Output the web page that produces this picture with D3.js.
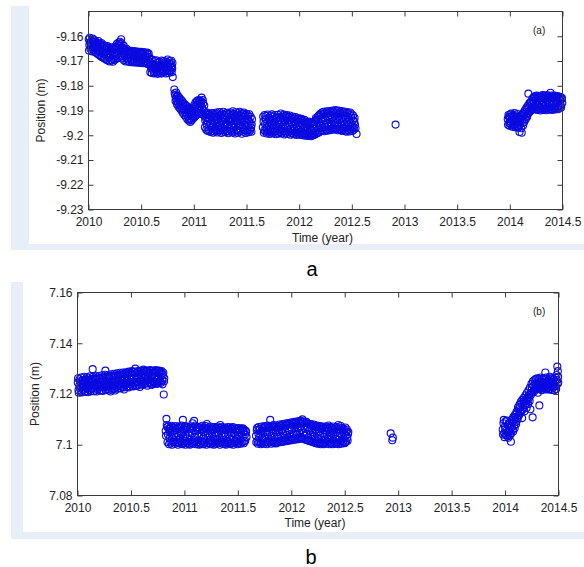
<!DOCTYPE html>
<html>
<head>
<meta charset="utf-8">
<script src="https://cdn.jsdelivr.net/npm/d3@7"></script>
<style>
  html, body { margin: 0; padding: 0; background: #fff; }
  svg { display: block; font-family: Arial, "Liberation Sans", sans-serif; }
</style>
</head>
<body>
<svg id="fig" width="584" height="567"></svg>
<script>
// ---- tick values and labels ----
const xTicks = [2010, 2010.5, 2011, 2011.5, 2012, 2012.5, 2013, 2013.5, 2014, 2014.5];
const xTickLabels = ["2010", "2010.5", "2011", "2011.5", "2012", "2012.5", "2013", "2013.5", "2014", "2014.5"];
const yTicksA = [-9.23, -9.22, -9.21, -9.20, -9.19, -9.18, -9.17, -9.16];
const yTickLabelsA = ["-9.23", "-9.22", "-9.21", "-9.2", "-9.19", "-9.18", "-9.17", "-9.16"];
const yTicksB = [7.08, 7.10, 7.12, 7.14, 7.16];
const yTickLabelsB = ["7.08", "7.1", "7.12", "7.14", "7.16"];

// ---- station (a): daily positions [time (year), position (m)] ----
const segA1 = [
[2010.002,-9.1612],[2010.008,-9.1635],[2010.015,-9.1624],[2010.021,-9.1641],[2010.029,-9.1618],[2010.035,-9.1630],
[2010.042,-9.1646],[2010.048,-9.1622],[2010.056,-9.1637],[2010.063,-9.1651],[2010.070,-9.1629],[2010.077,-9.1643],
[2010.084,-9.1656],[2010.090,-9.1634],[2010.097,-9.1648],[2010.104,-9.1662],[2010.112,-9.1639],[2010.118,-9.1653],
[2010.126,-9.1667],[2010.133,-9.1644],[2010.140,-9.1658],[2010.148,-9.1672],[2010.155,-9.1651],[2010.162,-9.1663],
[2010.170,-9.1677],[2010.177,-9.1655],[2010.184,-9.1668],[2010.192,-9.1683],[2010.199,-9.1660],[2010.206,-9.1674],
[2010.214,-9.1695],[2010.221,-9.1662],[2010.229,-9.1678],[2010.236,-9.1690],[2010.244,-9.1667],[2010.251,-9.1655],
[2010.258,-9.1680],[2010.266,-9.1648],[2010.273,-9.1672],[2010.281,-9.1640],[2010.288,-9.1663],[2010.295,-9.1632],
[2010.303,-9.1655],[2010.310,-9.1612],[2010.318,-9.1645],[2010.325,-9.1668],[2010.333,-9.1638],[2010.340,-9.1675],
[2010.348,-9.1656],[2010.355,-9.1682],[2010.363,-9.1664],[2010.370,-9.1690],[2010.378,-9.1671],[2010.386,-9.1660],
[2010.393,-9.1685],[2010.401,-9.1673],[2010.408,-9.1694],[2010.416,-9.1668],[2010.423,-9.1681],[2010.431,-9.1699],
[2010.438,-9.1676],[2010.446,-9.1663],[2010.453,-9.1688],[2010.461,-9.1672],[2010.468,-9.1695],[2010.476,-9.1679],
[2010.484,-9.1667],[2010.491,-9.1690],[2010.499,-9.1675],[2010.506,-9.1698],[2010.514,-9.1682],[2010.521,-9.1670],
[2010.529,-9.1693],[2010.537,-9.1679],[2010.544,-9.1701],[2010.552,-9.1686],[2010.559,-9.1672],[2010.567,-9.1696],
[2010.575,-9.1683],
[2010.583,-9.1705],[2010.590,-9.1722],[2010.597,-9.1693],[2010.604,-9.1731],[2010.611,-9.1712],[2010.618,-9.1740],
[2010.625,-9.1718],[2010.632,-9.1700],[2010.639,-9.1735],[2010.646,-9.1722],[2010.653,-9.1745],[2010.660,-9.1708],
[2010.667,-9.1728],[2010.674,-9.1741],[2010.681,-9.1715],[2010.688,-9.1732],[2010.695,-9.1698],[2010.702,-9.1724],
[2010.709,-9.1738],[2010.716,-9.1711],[2010.723,-9.1729],[2010.730,-9.1702],[2010.737,-9.1735],[2010.744,-9.1717],
[2010.751,-9.1694],[2010.758,-9.1726],[2010.765,-9.1708],[2010.772,-9.1737],[2010.779,-9.1713],[2010.786,-9.1699],
[2010.793,-9.1722],[2010.797,-9.1708],[2010.800,-9.1765]
];
const segA1x = [
[2010.005,-9.1658],[2010.012,-9.1606],[2010.018,-9.1650],[2010.025,-9.1627],[2010.032,-9.1661],[2010.039,-9.1609],
[2010.045,-9.1655],[2010.052,-9.1614],[2010.059,-9.1664],[2010.066,-9.1620],[2010.073,-9.1667],[2010.080,-9.1625],
[2010.087,-9.1672],[2010.094,-9.1619],[2010.101,-9.1676],[2010.108,-9.1630],[2010.115,-9.1681],[2010.122,-9.1627],
[2010.129,-9.1685],[2010.136,-9.1634],[2010.144,-9.1688],[2010.151,-9.1638],[2010.158,-9.1692],[2010.166,-9.1643],
[2010.173,-9.1696],[2010.180,-9.1640],[2010.188,-9.1699],[2010.195,-9.1647],[2010.202,-9.1702],[2010.210,-9.1651],
[2010.217,-9.1698],[2010.225,-9.1645],[2010.232,-9.1703],[2010.240,-9.1650],[2010.247,-9.1696],[2010.255,-9.1642],
[2010.262,-9.1692],[2010.270,-9.1630],[2010.277,-9.1688],[2010.285,-9.1625],[2010.292,-9.1684],[2010.299,-9.1622],
[2010.306,-9.1680],[2010.314,-9.1628],[2010.321,-9.1690],[2010.329,-9.1650],[2010.336,-9.1697],[2010.344,-9.1661],
[2010.351,-9.1702],[2010.359,-9.1650],[2010.367,-9.1700],[2010.374,-9.1657],[2010.382,-9.1703],[2010.389,-9.1662],
[2010.397,-9.1705],[2010.404,-9.1659],[2010.412,-9.1702],[2010.419,-9.1664],[2010.427,-9.1706],[2010.434,-9.1660],
[2010.442,-9.1703],[2010.450,-9.1665],[2010.457,-9.1707],[2010.465,-9.1662],[2010.472,-9.1704],[2010.480,-9.1666],
[2010.487,-9.1708],[2010.495,-9.1663],[2010.502,-9.1705],[2010.510,-9.1668],[2010.517,-9.1709],[2010.525,-9.1664],
[2010.533,-9.1706],[2010.540,-9.1669],[2010.548,-9.1710],[2010.556,-9.1666],[2010.563,-9.1712],[2010.571,-9.1670],
[2010.579,-9.1715],
[2010.587,-9.1745],[2010.594,-9.1710],[2010.601,-9.1748],[2010.608,-9.1695],[2010.615,-9.1725],[2010.622,-9.1750],
[2010.629,-9.1714],[2010.636,-9.1747],[2010.643,-9.1697],[2010.650,-9.1730],[2010.657,-9.1752],[2010.664,-9.1719],
[2010.671,-9.1703],[2010.678,-9.1748],[2010.685,-9.1722],[2010.692,-9.1751],[2010.699,-9.1712],[2010.706,-9.1745],
[2010.713,-9.1700],[2010.720,-9.1742],[2010.727,-9.1720],[2010.734,-9.1750],[2010.741,-9.1705],[2010.748,-9.1740],
[2010.755,-9.1716],[2010.762,-9.1748],[2010.769,-9.1700],[2010.776,-9.1743],[2010.783,-9.1725],[2010.790,-9.1745],
[2010.795,-9.1730]
];
const segA2 = [
[2010.815,-9.1815],[2010.822,-9.1838],[2010.829,-9.1852],[2010.836,-9.1845],[2010.843,-9.1863],[2010.850,-9.1870],
[2010.857,-9.1856],[2010.864,-9.1878],[2010.871,-9.1866],[2010.878,-9.1885],[2010.885,-9.1874],[2010.892,-9.1893],
[2010.899,-9.1880],[2010.906,-9.1899],[2010.913,-9.1888],[2010.920,-9.1906],[2010.927,-9.1894],[2010.934,-9.1913],
[2010.941,-9.1900],[2010.948,-9.1922],[2010.955,-9.1908],[2010.962,-9.1934],[2010.969,-9.1915],[2010.976,-9.1940],
[2010.983,-9.1902],[2010.990,-9.1926],[2010.997,-9.1895],[2011.004,-9.1912],[2011.011,-9.1885],[2011.018,-9.1903],
[2011.025,-9.1878],[2011.032,-9.1896],[2011.039,-9.1872],[2011.046,-9.1890],[2011.053,-9.1866],[2011.060,-9.1884],
[2011.067,-9.1875],[2011.074,-9.1848],[2011.081,-9.1892],[2011.088,-9.1870],[2011.095,-9.1901]
];
const segA2x = [
[2010.818,-9.1830],[2010.826,-9.1862],[2010.833,-9.1827],[2010.840,-9.1875],[2010.847,-9.1840],[2010.854,-9.1885],
[2010.861,-9.1848],[2010.868,-9.1892],[2010.875,-9.1855],[2010.882,-9.1900],[2010.889,-9.1862],[2010.896,-9.1910],
[2010.903,-9.1870],[2010.910,-9.1918],[2010.917,-9.1876],[2010.924,-9.1925],[2010.931,-9.1882],[2010.938,-9.1935],
[2010.945,-9.1888],[2010.952,-9.1941],[2010.959,-9.1893],[2010.966,-9.1946],[2010.973,-9.1898],[2010.980,-9.1938],
[2010.987,-9.1890],[2010.994,-9.1932],[2011.001,-9.1880],[2011.008,-9.1926],[2011.015,-9.1868],[2011.022,-9.1920],
[2011.029,-9.1862],[2011.036,-9.1915],[2011.043,-9.1858],[2011.050,-9.1910],[2011.057,-9.1860],[2011.064,-9.1908],
[2011.071,-9.1865],[2011.078,-9.1912],[2011.085,-9.1858],[2011.092,-9.1918],[2011.099,-9.1880]
];
const segA3 = [
[2011.102,-9.1922],[2011.108,-9.1940],[2011.115,-9.1931],[2011.121,-9.1955],[2011.128,-9.1918],[2011.134,-9.1946],
[2011.141,-9.1962],[2011.147,-9.1935],[2011.154,-9.1952],[2011.160,-9.1924],[2011.167,-9.1968],[2011.173,-9.1943],
[2011.180,-9.1930],[2011.186,-9.1957],[2011.193,-9.1941],[2011.199,-9.1975],[2011.206,-9.1950],[2011.212,-9.1927],
[2011.219,-9.1962],[2011.225,-9.1938],[2011.232,-9.1985],[2011.238,-9.1949],[2011.245,-9.1920],[2011.251,-9.1958],
[2011.258,-9.1943],[2011.264,-9.1970],[2011.271,-9.1932],[2011.277,-9.1955],[2011.284,-9.1917],[2011.290,-9.1946],
[2011.297,-9.1963],[2011.303,-9.1936],[2011.310,-9.1952],[2011.316,-9.1925],[2011.323,-9.1958],[2011.329,-9.1940],
[2011.336,-9.1974],[2011.342,-9.1947],[2011.349,-9.1930],[2011.355,-9.1959],[2011.362,-9.1942],[2011.368,-9.1915],
[2011.375,-9.1953],[2011.381,-9.1968],[2011.388,-9.1939],[2011.394,-9.1922],[2011.401,-9.1957],[2011.407,-9.1944],
[2011.414,-9.1980],[2011.420,-9.1950],[2011.427,-9.1928],[2011.433,-9.1962],[2011.440,-9.1937],[2011.446,-9.1955],
[2011.453,-9.1913],[2011.459,-9.1946],[2011.466,-9.1971],[2011.472,-9.1940],[2011.479,-9.1958],[2011.485,-9.1925],
[2011.492,-9.1964],[2011.498,-9.1949],[2011.505,-9.1978],[2011.511,-9.1935],[2011.518,-9.1960],[2011.524,-9.1943],
[2011.531,-9.1975],[2011.537,-9.1952],[2011.544,-9.1968],[2011.550,-9.1957]
];
const segA3x = [
[2011.105,-9.1968],[2011.111,-9.1910],[2011.118,-9.1978],[2011.124,-9.1908],[2011.131,-9.1983],[2011.137,-9.1915],
[2011.144,-9.1980],[2011.150,-9.1912],[2011.157,-9.1987],[2011.163,-9.1920],[2011.170,-9.1984],[2011.176,-9.1910],
[2011.183,-9.1990],[2011.189,-9.1917],[2011.196,-9.1985],[2011.202,-9.1913],[2011.209,-9.1982],[2011.215,-9.1908],
[2011.222,-9.1989],[2011.228,-9.1915],[2011.235,-9.1966],[2011.241,-9.1906],[2011.248,-9.1980],[2011.254,-9.1918],
[2011.261,-9.1991],[2011.267,-9.1912],[2011.274,-9.1986],[2011.280,-9.1905],[2011.287,-9.1979],[2011.293,-9.1920],
[2011.300,-9.1988],[2011.306,-9.1911],[2011.313,-9.1983],[2011.319,-9.1909],[2011.326,-9.1992],[2011.332,-9.1916],
[2011.339,-9.1985],[2011.345,-9.1908],[2011.352,-9.1981],[2011.358,-9.1919],[2011.365,-9.1989],[2011.371,-9.1903],
[2011.378,-9.1984],[2011.384,-9.1914],[2011.391,-9.1993],[2011.397,-9.1907],[2011.404,-9.1979],[2011.410,-9.1918],
[2011.417,-9.1990],[2011.423,-9.1910],[2011.430,-9.1985],[2011.436,-9.1905],[2011.443,-9.1982],[2011.449,-9.1921],
[2011.456,-9.1994],[2011.462,-9.1912],[2011.469,-9.1986],[2011.475,-9.1908],[2011.482,-9.1980],[2011.488,-9.1917],
[2011.495,-9.1991],[2011.501,-9.1913],[2011.508,-9.1984],[2011.514,-9.1920],[2011.521,-9.1988],[2011.527,-9.1915],
[2011.534,-9.1982],[2011.540,-9.1925],[2011.547,-9.1986],[2011.553,-9.1935]
];
const segA4 = [
[2011.655,-9.1968],[2011.662,-9.1945],[2011.669,-9.1980],[2011.676,-9.1955],[2011.683,-9.1935],[2011.690,-9.1972],
[2011.697,-9.1950],[2011.704,-9.1988],[2011.711,-9.1962],[2011.718,-9.1940],[2011.725,-9.1975],[2011.732,-9.1953],
[2011.739,-9.1984],[2011.746,-9.1958],[2011.753,-9.1937],[2011.760,-9.1970],[2011.767,-9.1948],[2011.774,-9.1982],
[2011.781,-9.1961],[2011.788,-9.1927],[2011.795,-9.1966],[2011.802,-9.1944],[2011.809,-9.1978],[2011.816,-9.1955],
[2011.823,-9.1932],[2011.830,-9.1969],[2011.837,-9.1947],[2011.844,-9.1920],[2011.851,-9.1958],[2011.858,-9.1985],
[2011.865,-9.1940],[2011.872,-9.1964],[2011.879,-9.1930],[2011.886,-9.1972],[2011.893,-9.1951],[2011.900,-9.1988],
[2011.907,-9.1960],[2011.914,-9.1938],[2011.921,-9.1975],[2011.928,-9.1952],[2011.935,-9.1983],[2011.942,-9.1963],
[2011.949,-9.1942],[2011.956,-9.1977],[2011.963,-9.1955],[2011.970,-9.1990],[2011.977,-9.1967],[2011.984,-9.1945],
[2011.991,-9.1979],[2011.998,-9.1958],[2012.005,-9.1986],[2012.012,-9.1964],[2012.019,-9.1948],[2012.026,-9.1981],
[2012.033,-9.1960],[2012.040,-9.1992],[2012.047,-9.1970],[2012.054,-9.1952],[2012.061,-9.1984],[2012.068,-9.1966],
[2012.075,-9.1995],[2012.082,-9.1975],[2012.089,-9.1958],[2012.096,-9.1990],[2012.103,-9.1972],[2012.110,-9.1996],
[2012.117,-9.1978],[2012.124,-9.1962],[2012.131,-9.1993],[2012.138,-9.1975],[2012.145,-9.1955],[2012.152,-9.1985],
[2012.159,-9.1930],[2012.166,-9.1965],[2012.173,-9.1940],[2012.180,-9.1978],[2012.187,-9.1950],[2012.194,-9.1922],
[2012.201,-9.1962],[2012.208,-9.1935],[2012.215,-9.1970],[2012.222,-9.1945],[2012.229,-9.1915],[2012.236,-9.1955],
[2012.243,-9.1932],[2012.250,-9.1966],[2012.257,-9.1940],[2012.264,-9.1912],[2012.271,-9.1950],[2012.278,-9.1926],
[2012.285,-9.1962],[2012.292,-9.1938],[2012.299,-9.1918],[2012.306,-9.1954],[2012.313,-9.1930],[2012.320,-9.1968],
[2012.327,-9.1942],[2012.334,-9.1920],[2012.341,-9.1957],[2012.348,-9.1934],[2012.355,-9.1910],[2012.362,-9.1948],
[2012.369,-9.1925],[2012.376,-9.1962],[2012.383,-9.1938],[2012.390,-9.1915],[2012.397,-9.1952],[2012.404,-9.1930],
[2012.411,-9.1970],[2012.418,-9.1944],[2012.425,-9.1920],[2012.432,-9.1956],[2012.439,-9.1934],[2012.446,-9.1972],
[2012.453,-9.1947],[2012.460,-9.1925],[2012.467,-9.1960],[2012.474,-9.1938],[2012.481,-9.1975],[2012.488,-9.1950],
[2012.495,-9.1928],[2012.502,-9.1962],[2012.509,-9.1940],[2012.516,-9.1968],[2012.523,-9.1945],[2012.530,-9.1958],
[2012.545,-9.1995]
];
const segA4x = [
[2011.658,-9.1925],[2011.665,-9.1990],[2011.672,-9.1918],[2011.679,-9.1985],[2011.686,-9.1922],[2011.693,-9.1993],
[2011.700,-9.1916],[2011.707,-9.1982],[2011.714,-9.1928],[2011.721,-9.1995],[2011.728,-9.1920],[2011.735,-9.1988],
[2011.742,-9.1915],[2011.749,-9.1992],[2011.756,-9.1924],[2011.763,-9.1986],[2011.770,-9.1918],[2011.777,-9.1996],
[2011.784,-9.1930],[2011.791,-9.1989],[2011.798,-9.1917],[2011.805,-9.1994],[2011.812,-9.1925],[2011.819,-9.1987],
[2011.826,-9.1912],[2011.833,-9.1993],[2011.840,-9.1928],[2011.847,-9.1984],[2011.854,-9.1916],[2011.861,-9.1997],
[2011.868,-9.1922],[2011.875,-9.1990],[2011.882,-9.1918],[2011.889,-9.1995],[2011.896,-9.1926],[2011.903,-9.1986],
[2011.910,-9.1920],[2011.917,-9.1998],[2011.924,-9.1930],[2011.931,-9.1991],[2011.938,-9.1924],[2011.945,-9.1996],
[2011.952,-9.1932],[2011.959,-9.1988],[2011.966,-9.1926],[2011.973,-9.1999],[2011.980,-9.1935],[2011.987,-9.1993],
[2011.994,-9.1930],[2012.001,-9.1998],[2012.008,-9.1938],[2012.015,-9.1994],[2012.022,-9.1934],[2012.029,-9.2000],
[2012.036,-9.1942],[2012.043,-9.1996],[2012.050,-9.1938],[2012.057,-9.2002],[2012.064,-9.1946],[2012.071,-9.1998],
[2012.078,-9.1950],[2012.085,-9.2003],[2012.092,-9.1945],[2012.099,-9.2000],[2012.106,-9.1952],[2012.113,-9.2004],
[2012.120,-9.1948],[2012.127,-9.2001],[2012.134,-9.1955],[2012.141,-9.1999],[2012.148,-9.1945],[2012.155,-9.1996],
[2012.162,-9.1938],[2012.169,-9.1992],[2012.176,-9.1925],[2012.183,-9.1990],[2012.190,-9.1918],[2012.197,-9.1986],
[2012.204,-9.1912],[2012.211,-9.1983],[2012.218,-9.1908],[2012.225,-9.1980],[2012.232,-9.1905],[2012.239,-9.1984],
[2012.246,-9.1910],[2012.253,-9.1978],[2012.260,-9.1903],[2012.267,-9.1982],[2012.274,-9.1908],[2012.281,-9.1976],
[2012.288,-9.1902],[2012.295,-9.1980],[2012.302,-9.1906],[2012.309,-9.1974],[2012.316,-9.1900],[2012.323,-9.1978],
[2012.330,-9.1905],[2012.337,-9.1972],[2012.344,-9.1898],[2012.351,-9.1976],[2012.358,-9.1903],[2012.365,-9.1980],
[2012.372,-9.1900],[2012.379,-9.1974],[2012.386,-9.1906],[2012.393,-9.1979],[2012.400,-9.1902],[2012.407,-9.1983],
[2012.414,-9.1908],[2012.421,-9.1977],[2012.428,-9.1904],[2012.435,-9.1982],[2012.442,-9.1910],[2012.449,-9.1986],
[2012.456,-9.1906],[2012.463,-9.1980],[2012.470,-9.1912],[2012.477,-9.1985],[2012.484,-9.1908],[2012.491,-9.1978],
[2012.498,-9.1915],[2012.505,-9.1983],[2012.512,-9.1920],[2012.519,-9.1978],[2012.526,-9.1930],[2012.535,-9.1972]
];
const segA5 = [[2012.915,-9.1957]];
const segA6 = [
[2013.980,-9.1935],[2013.987,-9.1918],[2013.994,-9.1950],[2014.001,-9.1928],[2014.008,-9.1945],[2014.015,-9.1912],
[2014.022,-9.1938],[2014.029,-9.1960],[2014.036,-9.1925],[2014.043,-9.1948],[2014.050,-9.1932],[2014.057,-9.1955],
[2014.064,-9.1920],[2014.071,-9.1942],[2014.078,-9.1965],[2014.085,-9.1930],[2014.092,-9.1987],[2014.099,-9.1946],
[2014.106,-9.1920],[2014.113,-9.1990],[2014.120,-9.1938],[2014.127,-9.1960],[2014.134,-9.1915],[2014.141,-9.1935],
[2014.148,-9.1905],[2014.155,-9.1925],[2014.162,-9.1895],[2014.169,-9.1915],[2014.176,-9.1832],[2014.183,-9.1885],
[2014.190,-9.1905],[2014.197,-9.1868],[2014.204,-9.1890],[2014.211,-9.1872],[2014.218,-9.1895],[2014.225,-9.1860],
[2014.232,-9.1882],[2014.239,-9.1850],[2014.246,-9.1875],[2014.253,-9.1895],[2014.260,-9.1860],[2014.267,-9.1880],
[2014.274,-9.1845],[2014.281,-9.1870],[2014.288,-9.1890],[2014.295,-9.1858],[2014.302,-9.1878],[2014.309,-9.1838],
[2014.316,-9.1865],[2014.323,-9.1888],[2014.330,-9.1852],[2014.337,-9.1874],[2014.344,-9.1892],[2014.351,-9.1858],
[2014.358,-9.1879],[2014.365,-9.1845],[2014.372,-9.1868],[2014.379,-9.1886],[2014.386,-9.1828],[2014.393,-9.1862],
[2014.400,-9.1880],[2014.407,-9.1850],[2014.414,-9.1872],[2014.421,-9.1890],[2014.428,-9.1856],[2014.435,-9.1876],
[2014.442,-9.1848],[2014.449,-9.1866],[2014.456,-9.1885],[2014.463,-9.1852],[2014.470,-9.1873],[2014.477,-9.1860],
[2014.484,-9.1880],[2014.491,-9.1855],[2014.498,-9.1870]
];
const segA6x = [
[2013.983,-9.1958],[2013.990,-9.1925],[2013.997,-9.1962],[2014.004,-9.1915],[2014.011,-9.1957],[2014.018,-9.1922],
[2014.025,-9.1966],[2014.032,-9.1918],[2014.039,-9.1960],[2014.046,-9.1910],[2014.053,-9.1968],[2014.060,-9.1928],
[2014.067,-9.1962],[2014.074,-9.1914],[2014.081,-9.1970],[2014.088,-9.1925],[2014.095,-9.1958],[2014.102,-9.1935],
[2014.109,-9.1972],[2014.116,-9.1918],[2014.123,-9.1950],[2014.130,-9.1908],[2014.137,-9.1945],[2014.144,-9.1898],
[2014.151,-9.1935],[2014.158,-9.1888],[2014.165,-9.1925],[2014.172,-9.1880],[2014.179,-9.1910],[2014.186,-9.1870],
[2014.193,-9.1900],[2014.200,-9.1865],[2014.207,-9.1898],[2014.214,-9.1852],[2014.221,-9.1888],[2014.228,-9.1845],
[2014.235,-9.1885],[2014.242,-9.1842],[2014.249,-9.1896],[2014.256,-9.1840],[2014.263,-9.1898],[2014.270,-9.1848],
[2014.277,-9.1892],[2014.284,-9.1842],[2014.291,-9.1900],[2014.298,-9.1845],[2014.305,-9.1895],[2014.312,-9.1850],
[2014.319,-9.1898],[2014.326,-9.1840],[2014.333,-9.1893],[2014.340,-9.1846],[2014.347,-9.1899],[2014.354,-9.1838],
[2014.361,-9.1892],[2014.368,-9.1844],[2014.375,-9.1897],[2014.382,-9.1850],[2014.389,-9.1894],[2014.396,-9.1840],
[2014.403,-9.1898],[2014.410,-9.1846],[2014.417,-9.1892],[2014.424,-9.1840],[2014.431,-9.1896],[2014.438,-9.1845],
[2014.445,-9.1890],[2014.452,-9.1842],[2014.459,-9.1895],[2014.466,-9.1850],[2014.473,-9.1890],[2014.480,-9.1845],
[2014.487,-9.1888],[2014.495,-9.1850]
];

// ---- station (b): daily positions [time (year), position (m)] ----
const segB1 = [
[2010.002,7.1245],[2010.009,7.1215],[2010.016,7.1232],[2010.023,7.1250],[2010.030,7.1208],[2010.037,7.1228],
[2010.044,7.1240],[2010.051,7.1218],[2010.058,7.1236],[2010.065,7.1252],[2010.072,7.1212],[2010.079,7.1230],
[2010.086,7.1244],[2010.093,7.1220],[2010.100,7.1238],[2010.107,7.1255],[2010.114,7.1216],[2010.121,7.1234],
[2010.128,7.1248],[2010.135,7.1222],[2010.142,7.1298],[2010.149,7.1240],[2010.156,7.1211],[2010.163,7.1232],
[2010.170,7.1257],[2010.177,7.1225],[2010.184,7.1243],[2010.191,7.1218],[2010.198,7.1237],[2010.205,7.1260],
[2010.212,7.1228],[2010.219,7.1246],[2010.226,7.1214],[2010.233,7.1235],[2010.240,7.1254],[2010.247,7.1226],
[2010.254,7.1242],[2010.261,7.1292],[2010.268,7.1230],[2010.275,7.1249],[2010.282,7.1220],[2010.289,7.1238],
[2010.296,7.1262],[2010.303,7.1232],[2010.310,7.1210],[2010.317,7.1247],[2010.324,7.1225],[2010.331,7.1244],
[2010.338,7.1265],[2010.345,7.1235],[2010.352,7.1214],[2010.359,7.1250],[2010.366,7.1228],[2010.373,7.1246],
[2010.380,7.1268],[2010.387,7.1238],[2010.394,7.1222],[2010.401,7.1255],[2010.408,7.1233],[2010.415,7.1250],
[2010.422,7.1270],[2010.429,7.1240],[2010.436,7.1218],[2010.443,7.1258],[2010.450,7.1236],[2010.457,7.1252],
[2010.464,7.1272],[2010.471,7.1244],[2010.478,7.1226],[2010.485,7.1260],[2010.492,7.1238],[2010.499,7.1255],
[2010.506,7.1275],[2010.513,7.1247],[2010.520,7.1230],[2010.527,7.1262],[2010.534,7.1241],[2010.541,7.1300],
[2010.548,7.1258],[2010.555,7.1232],[2010.562,7.1265],[2010.569,7.1245],[2010.576,7.1270],[2010.583,7.1228],
[2010.590,7.1255],[2010.597,7.1276],[2010.604,7.1248],[2010.611,7.1236],[2010.618,7.1296],[2010.625,7.1262],
[2010.632,7.1242],[2010.639,7.1270],[2010.646,7.1250],[2010.653,7.1233],[2010.660,7.1266],[2010.667,7.1278],
[2010.674,7.1246],[2010.681,7.1260],[2010.688,7.1238],[2010.695,7.1272],[2010.702,7.1252],[2010.709,7.1280],
[2010.716,7.1244],[2010.723,7.1265],[2010.730,7.1286],[2010.737,7.1255],[2010.744,7.1240],[2010.751,7.1274],
[2010.758,7.1260],[2010.765,7.1282],[2010.772,7.1248],[2010.779,7.1268],[2010.786,7.1290],[2010.793,7.1256],
[2010.800,7.1275],[2010.807,7.1198],[2010.812,7.1262]
];
const segB1x = [
[2010.005,7.1262],[2010.012,7.1205],[2010.019,7.1258],[2010.026,7.1222],[2010.033,7.1265],[2010.040,7.1206],
[2010.047,7.1255],[2010.054,7.1228],[2010.061,7.1268],[2010.068,7.1209],[2010.075,7.1258],[2010.082,7.1224],
[2010.089,7.1266],[2010.096,7.1207],[2010.103,7.1262],[2010.110,7.1230],[2010.117,7.1270],[2010.124,7.1210],
[2010.131,7.1260],[2010.138,7.1226],[2010.145,7.1268],[2010.152,7.1212],[2010.159,7.1262],[2010.166,7.1232],
[2010.173,7.1272],[2010.180,7.1210],[2010.187,7.1264],[2010.194,7.1228],[2010.201,7.1270],[2010.208,7.1214],
[2010.215,7.1262],[2010.222,7.1234],[2010.229,7.1274],[2010.236,7.1212],[2010.243,7.1266],[2010.250,7.1230],
[2010.257,7.1276],[2010.264,7.1216],[2010.271,7.1268],[2010.278,7.1236],[2010.285,7.1274],[2010.292,7.1214],
[2010.299,7.1270],[2010.306,7.1238],[2010.313,7.1278],[2010.320,7.1218],[2010.327,7.1272],[2010.334,7.1232],
[2010.341,7.1280],[2010.348,7.1220],[2010.355,7.1274],[2010.362,7.1240],[2010.369,7.1282],[2010.376,7.1222],
[2010.383,7.1276],[2010.390,7.1236],[2010.397,7.1284],[2010.404,7.1224],[2010.411,7.1278],[2010.418,7.1242],
[2010.425,7.1285],[2010.432,7.1226],[2010.439,7.1280],[2010.446,7.1238],[2010.453,7.1286],[2010.460,7.1228],
[2010.467,7.1282],[2010.474,7.1244],[2010.481,7.1288],[2010.488,7.1230],[2010.495,7.1284],[2010.502,7.1240],
[2010.509,7.1290],[2010.516,7.1232],[2010.523,7.1286],[2010.530,7.1246],[2010.537,7.1288],[2010.544,7.1234],
[2010.551,7.1284],[2010.558,7.1248],[2010.565,7.1290],[2010.572,7.1236],[2010.579,7.1286],[2010.586,7.1250],
[2010.593,7.1292],[2010.600,7.1238],[2010.607,7.1284],[2010.614,7.1252],[2010.621,7.1290],[2010.628,7.1240],
[2010.635,7.1288],[2010.642,7.1254],[2010.649,7.1292],[2010.656,7.1242],[2010.663,7.1286],[2010.670,7.1256],
[2010.677,7.1294],[2010.684,7.1244],[2010.691,7.1290],[2010.698,7.1236],[2010.705,7.1292],[2010.712,7.1246],
[2010.719,7.1288],[2010.726,7.1240],[2010.733,7.1294],[2010.740,7.1248],[2010.747,7.1290],[2010.754,7.1242],
[2010.761,7.1292],[2010.768,7.1250],[2010.775,7.1288],[2010.782,7.1244],[2010.789,7.1280],[2010.796,7.1238],
[2010.803,7.1284],[2010.810,7.1250]
];
const segB2 = [
[2010.825,7.1055],[2010.832,7.1102],[2010.839,7.1070],[2010.846,7.1040],[2010.853,7.1062],[2010.860,7.1025],
[2010.867,7.1048],[2010.874,7.1068],[2010.881,7.1032],[2010.888,7.1012],[2010.895,7.1055],[2010.902,7.1038],
[2010.909,7.1018],[2010.916,7.1060],[2010.923,7.1030],[2010.930,7.1046],[2010.937,7.1008],[2010.944,7.1035],
[2010.951,7.1066],[2010.958,7.1022],[2010.965,7.1042],[2010.972,7.1005],[2010.979,7.1050],[2010.986,7.1098],
[2010.993,7.1028],[2011.000,7.1060],[2011.007,7.1015],[2011.014,7.1040],[2011.021,7.1072],[2011.028,7.1025],
[2011.035,7.1048],[2011.042,7.1003],[2011.049,7.1036],[2011.056,7.1065],[2011.063,7.1020],[2011.070,7.1044],
[2011.077,7.1085],[2011.084,7.1012],[2011.091,7.1094],[2011.098,7.1030],[2011.105,7.1055],[2011.112,7.1008],
[2011.119,7.1042],[2011.126,7.1068],[2011.133,7.1018],[2011.140,7.1038],[2011.147,7.1060],[2011.154,7.1002],
[2011.161,7.1034],[2011.168,7.1075],[2011.175,7.1024],[2011.182,7.1050],[2011.189,7.1010],[2011.196,7.1040],
[2011.203,7.1065],[2011.210,7.1082],[2011.217,7.1028],[2011.224,7.1046],[2011.231,7.1006],[2011.238,7.1036],
[2011.245,7.1058],[2011.252,7.1016],[2011.259,7.1042],[2011.266,7.1070],[2011.273,7.1022],[2011.280,7.1048],
[2011.287,7.1004],[2011.294,7.1035],[2011.301,7.1062],[2011.308,7.1018],[2011.315,7.1044],[2011.322,7.1066],
[2011.329,7.1026],[2011.336,7.1078],[2011.343,7.1010],[2011.350,7.1040],[2011.357,7.1060],[2011.364,7.1020],
[2011.371,7.1046],[2011.378,7.1003],[2011.385,7.1034],[2011.392,7.1058],[2011.399,7.1015],[2011.406,7.1042],
[2011.413,7.1064],[2011.420,7.1024],[2011.427,7.1048],[2011.434,7.1006],[2011.441,7.1036],[2011.448,7.1070],
[2011.455,7.1020],[2011.462,7.1044],[2011.469,7.1012],[2011.476,7.1038],[2011.483,7.1062],[2011.490,7.1026],
[2011.497,7.1048],[2011.504,7.1008],[2011.511,7.1036],[2011.518,7.1058],[2011.525,7.1020],[2011.532,7.1042],
[2011.539,7.1065],[2011.546,7.1028],[2011.553,7.1050],[2011.560,7.1014],[2011.567,7.1040],[2011.574,7.1055],
[2011.581,7.1030]
];
const segB2x = [
[2010.828,7.1035],[2010.835,7.1078],[2010.842,7.1010],[2010.849,7.1072],[2010.856,7.1002],[2010.863,7.1066],
[2010.870,7.1008],[2010.877,7.1075],[2010.884,7.1000],[2010.891,7.1070],[2010.898,7.1012],[2010.905,7.1068],
[2010.912,7.1004],[2010.919,7.1074],[2010.926,7.1010],[2010.933,7.1065],[2010.940,7.1000],[2010.947,7.1072],
[2010.954,7.1006],[2010.961,7.1068],[2010.968,7.1012],[2010.975,7.1076],[2010.982,7.1002],[2010.989,7.1062],
[2010.996,7.1008],[2011.003,7.1074],[2011.010,7.1000],[2011.017,7.1066],[2011.024,7.1006],[2011.031,7.1070],
[2011.038,7.1012],[2011.045,7.1064],[2011.052,7.1000],[2011.059,7.1072],[2011.066,7.1008],[2011.073,7.1066],
[2011.080,7.1004],[2011.087,7.1070],[2011.094,7.1010],[2011.101,7.1076],[2011.108,7.1002],[2011.115,7.1064],
[2011.122,7.1010],[2011.129,7.1070],[2011.136,7.1000],[2011.143,7.1066],[2011.150,7.1006],[2011.157,7.1072],
[2011.164,7.1012],[2011.171,7.1060],[2011.178,7.1002],[2011.185,7.1068],[2011.192,7.1008],[2011.199,7.1074],
[2011.206,7.1000],[2011.213,7.1062],[2011.220,7.1006],[2011.227,7.1068],[2011.234,7.1012],[2011.241,7.1072],
[2011.248,7.1002],[2011.255,7.1064],[2011.262,7.1008],[2011.269,7.1060],[2011.276,7.1000],[2011.283,7.1070],
[2011.290,7.1010],[2011.297,7.1066],[2011.304,7.1004],[2011.311,7.1072],[2011.318,7.1008],[2011.325,7.1058],
[2011.332,7.1000],[2011.339,7.1066],[2011.346,7.1012],[2011.353,7.1070],[2011.360,7.1004],[2011.367,7.1062],
[2011.374,7.1010],[2011.381,7.1068],[2011.388,7.1000],[2011.395,7.1064],[2011.402,7.1006],[2011.409,7.1070],
[2011.416,7.1010],[2011.423,7.1060],[2011.430,7.1002],[2011.437,7.1066],[2011.444,7.1008],[2011.451,7.1062],
[2011.458,7.1000],[2011.465,7.1068],[2011.472,7.1006],[2011.479,7.1060],[2011.486,7.1012],[2011.493,7.1064],
[2011.500,7.1002],[2011.507,7.1066],[2011.514,7.1008],[2011.521,7.1060],[2011.528,7.1004],[2011.535,7.1062],
[2011.542,7.1010],[2011.549,7.1064],[2011.556,7.1006],[2011.563,7.1058],[2011.570,7.1016],[2011.577,7.1050]
];
const segB3 = [
[2011.670,7.1035],[2011.677,7.1058],[2011.684,7.1015],[2011.691,7.1045],[2011.698,7.1028],[2011.705,7.1062],
[2011.712,7.1008],[2011.719,7.1040],[2011.726,7.1055],[2011.733,7.1020],[2011.740,7.1048],[2011.747,7.1070],
[2011.754,7.1030],[2011.761,7.1052],[2011.768,7.1012],[2011.775,7.1042],[2011.782,7.1066],[2011.789,7.1025],
[2011.796,7.1050],[2011.803,7.1098],[2011.810,7.1035],[2011.817,7.1060],[2011.824,7.1018],[2011.831,7.1045],
[2011.838,7.1070],[2011.845,7.1030],[2011.852,7.1055],[2011.859,7.1005],[2011.866,7.1040],[2011.873,7.1064],
[2011.880,7.1024],[2011.887,7.1050],[2011.894,7.1074],[2011.901,7.1034],[2011.908,7.1058],[2011.915,7.1012],
[2011.922,7.1046],[2011.929,7.1068],[2011.936,7.1028],[2011.943,7.1052],[2011.950,7.1078],[2011.957,7.1038],
[2011.964,7.1084],[2011.971,7.1020],[2011.978,7.1056],[2011.985,7.1042],[2011.992,7.1070],[2011.999,7.1030],
[2012.006,7.1060],[2012.013,7.1082],[2012.020,7.1044],[2012.027,7.1066],[2012.034,7.1025],[2012.041,7.1055],
[2012.048,7.1078],[2012.055,7.1040],[2012.062,7.1064],[2012.069,7.1086],[2012.076,7.1046],[2012.083,7.1068],
[2012.090,7.1030],[2012.097,7.1058],[2012.104,7.1100],[2012.111,7.1048],[2012.118,7.1072],[2012.125,7.1036],
[2012.132,7.1062],[2012.139,7.1085],[2012.146,7.1044],[2012.153,7.1068],[2012.160,7.1028],[2012.167,7.1056],
[2012.174,7.1080],[2012.181,7.1040],[2012.188,7.1064],[2012.195,7.1022],[2012.202,7.1050],[2012.209,7.1074],
[2012.216,7.1034],[2012.223,7.1058],[2012.230,7.1015],[2012.237,7.1045],[2012.244,7.1068],[2012.251,7.1026],
[2012.258,7.1050],[2012.265,7.1010],[2012.272,7.1038],[2012.279,7.1062],[2012.286,7.1020],[2012.293,7.1046],
[2012.300,7.1005],[2012.307,7.1032],[2012.314,7.1056],[2012.321,7.1016],[2012.328,7.1040],[2012.335,7.1064],
[2012.342,7.1022],[2012.349,7.1076],[2012.356,7.1030],[2012.363,7.1050],[2012.370,7.1008],[2012.377,7.1036],
[2012.384,7.1058],[2012.391,7.1018],[2012.398,7.1042],[2012.405,7.1064],[2012.412,7.1024],[2012.419,7.1048],
[2012.426,7.1004],[2012.433,7.1034],[2012.440,7.1078],[2012.447,7.1020],[2012.454,7.1044],[2012.461,7.1060],
[2012.468,7.1015],[2012.475,7.1038],[2012.482,7.1056],[2012.489,7.1025],[2012.496,7.1046],[2012.503,7.1010],
[2012.510,7.1036],[2012.517,7.1052],[2012.524,7.1028],[2012.531,7.1042]
];
const segB3x = [
[2011.673,7.1010],[2011.680,7.1066],[2011.687,7.1004],[2011.694,7.1070],[2011.701,7.1010],[2011.708,7.1062],
[2011.715,7.1002],[2011.722,7.1072],[2011.729,7.1008],[2011.736,7.1066],[2011.743,7.1004],[2011.750,7.1074],
[2011.757,7.1010],[2011.764,7.1068],[2011.771,7.1002],[2011.778,7.1076],[2011.785,7.1008],[2011.792,7.1070],
[2011.799,7.1012],[2011.806,7.1074],[2011.813,7.1004],[2011.820,7.1068],[2011.827,7.1010],[2011.834,7.1078],
[2011.841,7.1006],[2011.848,7.1072],[2011.855,7.1012],[2011.862,7.1076],[2011.869,7.1008],[2011.876,7.1070],
[2011.883,7.1014],[2011.890,7.1080],[2011.897,7.1010],[2011.904,7.1074],[2011.911,7.1016],[2011.918,7.1082],
[2011.925,7.1012],[2011.932,7.1076],[2011.939,7.1018],[2011.946,7.1084],[2011.953,7.1014],[2011.960,7.1078],
[2011.967,7.1020],[2011.974,7.1086],[2011.981,7.1016],[2011.988,7.1080],[2011.995,7.1022],[2012.002,7.1088],
[2012.009,7.1018],[2012.016,7.1084],[2012.023,7.1024],[2012.030,7.1090],[2012.037,7.1020],[2012.044,7.1086],
[2012.051,7.1026],[2012.058,7.1092],[2012.065,7.1022],[2012.072,7.1088],[2012.079,7.1028],[2012.086,7.1094],
[2012.093,7.1024],[2012.100,7.1088],[2012.107,7.1026],[2012.114,7.1092],[2012.121,7.1022],[2012.128,7.1086],
[2012.135,7.1020],[2012.142,7.1090],[2012.149,7.1018],[2012.156,7.1084],[2012.163,7.1016],[2012.170,7.1080],
[2012.177,7.1014],[2012.184,7.1082],[2012.191,7.1012],[2012.198,7.1076],[2012.205,7.1010],[2012.212,7.1080],
[2012.219,7.1008],[2012.226,7.1072],[2012.233,7.1006],[2012.240,7.1076],[2012.247,7.1004],[2012.254,7.1070],
[2012.261,7.1008],[2012.268,7.1074],[2012.275,7.1002],[2012.282,7.1068],[2012.289,7.1006],[2012.296,7.1072],
[2012.303,7.1002],[2012.310,7.1066],[2012.317,7.1008],[2012.324,7.1072],[2012.331,7.1004],[2012.338,7.1068],
[2012.345,7.1010],[2012.352,7.1062],[2012.359,7.1002],[2012.366,7.1070],[2012.373,7.1006],[2012.380,7.1066],
[2012.387,7.1002],[2012.394,7.1072],[2012.401,7.1008],[2012.408,7.1064],[2012.415,7.1004],[2012.422,7.1070],
[2012.429,7.1010],[2012.436,7.1062],[2012.443,7.1002],[2012.450,7.1068],[2012.457,7.1008],[2012.464,7.1074],
[2012.471,7.1004],[2012.478,7.1066],[2012.485,7.1010],[2012.492,7.1062],[2012.499,7.1006],[2012.506,7.1068],
[2012.513,7.1012],[2012.520,7.1060],[2012.527,7.1016],[2012.534,7.1050]
];
const segB4 = [[2012.930,7.1045],[2012.945,7.1018],[2012.950,7.1028]];
const segB5 = [
[2013.978,7.1060],[2013.985,7.1085],[2013.992,7.1045],[2013.999,7.1072],[2014.006,7.1092],[2014.013,7.1055],
[2014.020,7.1035],[2014.027,7.1078],[2014.034,7.1050],[2014.041,7.1066],[2014.048,7.1040],[2014.055,7.1012],
[2014.062,7.1070],[2014.069,7.1088],[2014.076,7.1052],[2014.083,7.1098],[2014.090,7.1065],[2014.097,7.1110],
[2014.104,7.1082],[2014.111,7.1125],[2014.118,7.1100],[2014.125,7.1140],[2014.132,7.1118],[2014.139,7.1150],
[2014.146,7.1128],[2014.153,7.1162],[2014.160,7.1105],[2014.167,7.1140],[2014.174,7.1170],[2014.181,7.1132],
[2014.188,7.1158],[2014.195,7.1175],[2014.202,7.1145],[2014.209,7.1185],[2014.216,7.1160],[2014.223,7.1195],
[2014.230,7.1172],[2014.237,7.1140],[2014.244,7.1205],[2014.251,7.1225],[2014.258,7.1108],[2014.265,7.1232],
[2014.272,7.1210],[2014.279,7.1240],[2014.286,7.1218],[2014.293,7.1245],[2014.300,7.1225],[2014.307,7.1205],
[2014.314,7.1238],[2014.321,7.1155],[2014.328,7.1222],[2014.335,7.1248],[2014.342,7.1215],[2014.349,7.1240],
[2014.356,7.1228],[2014.363,7.1262],[2014.370,7.1232],[2014.377,7.1285],[2014.384,7.1218],[2014.391,7.1245],
[2014.398,7.1225],[2014.405,7.1255],[2014.412,7.1235],[2014.419,7.1268],[2014.426,7.1220],[2014.433,7.1248],
[2014.440,7.1230],[2014.447,7.1262],[2014.454,7.1238],[2014.461,7.1215],[2014.468,7.1250],[2014.475,7.1232],
[2014.482,7.1275],[2014.489,7.1308],[2014.494,7.1290],[2014.498,7.1245]
];
const segB5x = [
[2013.981,7.1040],[2013.988,7.1098],[2013.995,7.1030],[2014.002,7.1062],[2014.009,7.1038],[2014.016,7.1095],
[2014.023,7.1048],[2014.030,7.1028],[2014.037,7.1085],[2014.044,7.1035],[2014.051,7.1075],[2014.058,7.1045],
[2014.065,7.1100],[2014.072,7.1060],[2014.079,7.1110],[2014.086,7.1075],[2014.093,7.1118],[2014.100,7.1090],
[2014.107,7.1130],[2014.114,7.1105],[2014.121,7.1148],[2014.128,7.1115],[2014.135,7.1158],[2014.142,7.1125],
[2014.149,7.1170],[2014.156,7.1135],[2014.163,7.1178],[2014.170,7.1148],[2014.177,7.1185],[2014.184,7.1155],
[2014.191,7.1195],[2014.198,7.1165],[2014.205,7.1205],[2014.212,7.1175],[2014.219,7.1215],[2014.226,7.1185],
[2014.233,7.1225],[2014.240,7.1195],[2014.247,7.1240],[2014.254,7.1205],[2014.261,7.1250],[2014.268,7.1215],
[2014.275,7.1255],[2014.282,7.1222],[2014.289,7.1260],[2014.296,7.1228],[2014.303,7.1262],[2014.310,7.1220],
[2014.317,7.1258],[2014.324,7.1230],[2014.331,7.1265],[2014.338,7.1222],[2014.345,7.1260],[2014.352,7.1218],
[2014.359,7.1245],[2014.366,7.1225],[2014.373,7.1258],[2014.380,7.1240],[2014.387,7.1265],[2014.394,7.1222],
[2014.401,7.1252],[2014.408,7.1218],[2014.415,7.1248],[2014.422,7.1230],[2014.429,7.1262],[2014.436,7.1216],
[2014.443,7.1245],[2014.450,7.1225],[2014.457,7.1258],[2014.464,7.1232],[2014.471,7.1265],[2014.478,7.1220],
[2014.485,7.1255],[2014.492,7.1240],[2014.497,7.1268]
];

const pointsA = [].concat(segA1x, segA1, segA2x, segA2, segA3x, segA3, segA4x, segA4, segA5, segA6x, segA6);
const pointsB = [].concat(segB1x, segB1, segB2x, segB2, segB3x, segB3, segB4, segB5x, segB5);

const svg = d3.select("#fig");
const FRAME_FILL = "#e7eef8";
const AXIS_COLOR = "#3a3a3a";
const MARK_COLOR = "#0a0ae0";

function drawPanel(p) {
  // figure window: light border strip on the left and bottom, white interior
  svg.append("rect").attr("x", p.frame.x0).attr("y", p.frame.y0)
    .attr("width", 584 - p.frame.x0).attr("height", p.frame.y1 - p.frame.y0)
    .attr("fill", FRAME_FILL);
  svg.append("rect").attr("x", p.frame.xi).attr("y", p.frame.y0)
    .attr("width", 584 - p.frame.xi).attr("height", p.frame.yi - p.frame.y0)
    .attr("fill", "#fff");

  const x = d3.scaleLinear().domain([2010, 2014.5]).range([p.left, p.right]);
  const y = d3.scaleLinear().domain(p.yDomain).range([p.bottom, p.top]);

  const g = svg.append("g");

  // markers: open circles
  g.append("g").selectAll("circle").data(p.points).join("circle")
    .attr("cx", d => x(d[0]))
    .attr("cy", d => y(d[1]))
    .attr("r", 3.5)
    .attr("fill", "none")
    .attr("stroke", MARK_COLOR)
    .attr("stroke-width", 1.1);

  const fmtX = d => xTickLabels[xTicks.indexOf(d)];
  const fmtY = d => p.yLabels[p.yTicks.indexOf(d)];

  const styleAxis = sel => {
    sel.select(".domain").remove();
    sel.selectAll(".tick line").attr("stroke", AXIS_COLOR);
    sel.selectAll(".tick text").attr("fill", "#222").style("font-size", "12px")
      .style("font-family", 'Arial, "Liberation Sans", sans-serif');
  };

  g.append("g").attr("transform", `translate(0,${p.bottom})`)
    .call(d3.axisBottom(x).tickValues(xTicks).tickFormat(fmtX).tickSize(-5).tickPadding(8))
    .call(styleAxis);
  g.append("g").attr("transform", `translate(0,${p.top})`)
    .call(d3.axisTop(x).tickValues(xTicks).tickFormat("").tickSize(-5))
    .call(styleAxis);
  g.append("g").attr("transform", `translate(${p.left},0)`)
    .call(d3.axisLeft(y).tickValues(p.yTicks).tickFormat(fmtY).tickSize(-5).tickPadding(5))
    .call(styleAxis);
  g.append("g").attr("transform", `translate(${p.right},0)`)
    .call(d3.axisRight(y).tickValues(p.yTicks).tickFormat("").tickSize(-5))
    .call(styleAxis);

  // axes box
  g.append("rect")
    .attr("x", p.left).attr("y", p.top)
    .attr("width", p.right - p.left).attr("height", p.bottom - p.top)
    .attr("fill", "none").attr("stroke", AXIS_COLOR).attr("stroke-width", 1);

  // axis titles
  g.append("text")
    .attr("x", (p.left + p.right) / 2 - 3).attr("y", p.xTitleY)
    .attr("text-anchor", "middle").attr("fill", "#222").style("font-size", "12px")
    .text("Time (year)");
  g.append("text")
    .attr("transform", `translate(${p.yTitleX},${(p.top + p.bottom) / 2}) rotate(-90)`)
    .attr("text-anchor", "middle").attr("fill", "#222").style("font-size", "12px")
    .text("Position (m)");

  // panel tag inside the axes
  g.append("text")
    .attr("x", 533).attr("y", p.tagY)
    .attr("fill", "#222").style("font-size", "10px")
    .text(p.tag);

  // caption under the figure
  svg.append("text")
    .attr("x", p.captionX).attr("y", p.captionY)
    .attr("text-anchor", "middle").attr("fill", "#000").style("font-size", "20px")
    .text(p.caption);
}

drawPanel({
  points: pointsA,
  yDomain: [-9.23, -9.15], yTicks: yTicksA, yLabels: yTickLabelsA,
  left: 88.5, right: 562.5, top: 11.5, bottom: 209.5,
  frame: { x0: 11, xi: 29, y0: 6, yi: 244, y1: 250 },
  xTitleY: 242, yTitleX: 45, tagY: 34,
  tag: "(a)", caption: "a", captionX: 312, captionY: 276
});

drawPanel({
  points: pointsB,
  yDomain: [7.08, 7.16], yTicks: yTicksB, yLabels: yTickLabelsB,
  left: 77.5, right: 558.5, top: 292.5, bottom: 495.5,
  frame: { x0: 11, xi: 23, y0: 282, yi: 532, y1: 539 },
  xTitleY: 527, yTitleX: 39, tagY: 315,
  tag: "(b)", caption: "b", captionX: 311, captionY: 564
});
</script>
</body>
</html>
